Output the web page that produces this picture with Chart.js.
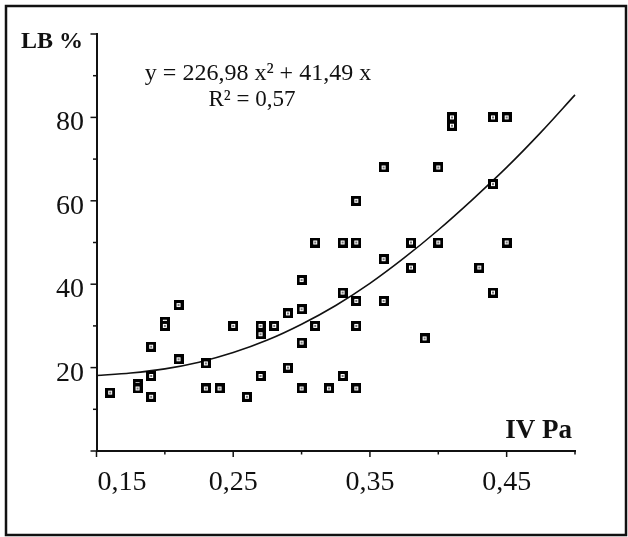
<!DOCTYPE html>
<html>
<head>
<meta charset="utf-8">
<script src="https://cdn.jsdelivr.net/npm/chart.js@4/dist/chart.umd.min.js"></script>
<style>
  body { margin: 0; background: #fff; }
  canvas { display: block; }
</style>
</head>
<body>
<canvas id="lbChart" width="628" height="537"></canvas>
<script>
// measured points : IV Pa (x) vs LB % (y)
const ivPa = [
  0.16,
  0.18, 0.18,
  0.19, 0.19, 0.19,
  0.20, 0.20,
  0.21, 0.21,
  0.23, 0.23,
  0.24, 0.25, 0.26,
  0.27, 0.27, 0.27,
  0.28,
  0.29, 0.29,
  0.30, 0.30, 0.30, 0.30,
  0.31, 0.31,
  0.32,
  0.33, 0.33, 0.33,
  0.34, 0.34, 0.34, 0.34, 0.34,
  0.36, 0.36, 0.36,
  0.38, 0.38,
  0.39,
  0.40, 0.40,
  0.41, 0.41,
  0.43,
  0.44, 0.44, 0.44,
  0.45, 0.45
];
const lbPct = [
  14,
  16, 15,
  25, 18, 13,
  31, 30,
  35, 22,
  21, 15,
  15, 30, 13,
  30, 28, 18,
  30,
  33, 20,
  41, 34, 26, 15,
  50, 30,
  15,
  50, 38, 18,
  60, 50, 36, 30, 15,
  68, 46, 36,
  50, 44,
  27,
  68, 50,
  80, 78,
  44,
  80, 64, 38,
  80, 50
];

// trend curve
const curveX = [0.15, 0.175, 0.20, 0.225, 0.25, 0.275, 0.30, 0.325, 0.35, 0.375, 0.40, 0.425, 0.45, 0.475, 0.50];
const curveY = [18.1, 18.7, 19.7, 21.3, 23.6, 26.6, 30.4, 34.9, 40.2, 46.3, 53.0, 60.3, 68.0, 76.4, 85.4];

const xLabelValues = [0.15, 0.25, 0.35, 0.45];
const yLabelValues = [20, 40, 60, 80];
const equationText = "y = 226,98 x\u00B2 + 41,49 x";
const r2Text = "R\u00B2 = 0,57";

const serif = "'Liberation Serif', 'Times New Roman', serif";

// little square marker with a dot inside
function makeMarker() {
  const c = document.createElement("canvas");
  c.width = 10;
  c.height = 10;
  const g = c.getContext("2d");
  g.fillStyle = "#000";
  g.fillRect(0, 0, 10, 10);
  g.fillStyle = "#fff";
  g.fillRect(3, 3, 4, 4);
  g.fillStyle = "#777";
  g.fillRect(4, 4, 2, 2);
  return c;
}

const decorations = {
  id: "decorations",
  afterDraw(chart) {
    const ctx = chart.ctx;
    const xs = chart.scales.x;
    const ys = chart.scales.y;
    const area = chart.chartArea;
    ctx.save();
    ctx.strokeStyle = "#111";
    ctx.fillStyle = "#111";

    // outer frame
    ctx.lineWidth = 2.5;
    ctx.strokeRect(6, 6, 620, 529);

    // tick marks
    ctx.lineWidth = 1.5;
    for (let v = 0; v <= 100; v += 10) {
      const y = ys.getPixelForValue(v);
      const len = v % 20 === 0 ? 6 : 3.5;
      ctx.beginPath();
      ctx.moveTo(area.left - len, y);
      ctx.lineTo(area.left, y);
      ctx.stroke();
    }
    for (let i = 0; i <= 7; i++) {
      const v = 0.15 + i * 0.05;
      const x = xs.getPixelForValue(v);
      const len = i % 2 === 0 ? 6 : 3.5;
      ctx.beginPath();
      ctx.moveTo(x, area.bottom);
      ctx.lineTo(x, area.bottom + len);
      ctx.stroke();
    }

    // tick labels
    ctx.font = "28px " + serif;
    ctx.textAlign = "right";
    ctx.textBaseline = "alphabetic";
    yLabelValues.forEach((v) => {
      ctx.fillText(String(v), 84, ys.getPixelForValue(v) + 13);
    });
    xLabelValues.forEach((v, i) => {
      const txt = v.toFixed(2).replace(".", ",");
      if (i === 0) {
        ctx.textAlign = "left";
        ctx.fillText(txt, area.left + 1, 490);
      } else {
        ctx.textAlign = "center";
        ctx.fillText(txt, xs.getPixelForValue(v), 490);
      }
    });

    // axis titles
    ctx.font = "bold 24px " + serif;
    ctx.textAlign = "left";
    ctx.fillText("LB %", 21, 48);
    ctx.font = "bold 27px " + serif;
    ctx.textAlign = "right";
    ctx.fillText("IV Pa", 572, 438);

    // equation
    ctx.textAlign = "center";
    ctx.font = "24px " + serif;
    ctx.fillText(equationText, 258, 80);
    ctx.font = "23px " + serif;
    ctx.fillText(r2Text, 252, 106);
    ctx.restore();
  },
};

const points = ivPa.map((x, i) => ({ x: x, y: lbPct[i] }));
const curve = curveX.map((x, i) => ({ x: x, y: curveY[i] }));

new Chart(document.getElementById("lbChart"), {
  type: "scatter",
  data: {
    datasets: [
      {
        label: "LB %",
        data: points,
        pointStyle: makeMarker(),
        pointRadius: 5,
        showLine: false,
      },
      {
        label: "trend",
        data: curve,
        showLine: true,
        borderColor: "#111",
        borderWidth: 1.6,
        pointRadius: 0,
        tension: 0.4,
        cubicInterpolationMode: "monotone",
      },
    ],
  },
  options: {
    responsive: false,
    animation: false,
    clip: false,
    layout: {
      padding: { left: 0, top: 34, right: 53, bottom: 0 },
    },
    plugins: {
      legend: { display: false },
      tooltip: { enabled: false },
    },
    scales: {
      x: {
        type: "linear",
        min: 0.15,
        max: 0.5,
        grid: { display: false },
        border: { color: "#111", width: 2 },
        ticks: { display: false },
        afterFit: (s) => {
          s.height = 86;
        },
      },
      y: {
        min: 0,
        max: 100,
        grid: { display: false },
        border: { color: "#111", width: 2 },
        ticks: { display: false },
        afterFit: (s) => {
          s.width = 96.5;
        },
      },
    },
  },
  plugins: [decorations],
});
</script>
</body>
</html>
